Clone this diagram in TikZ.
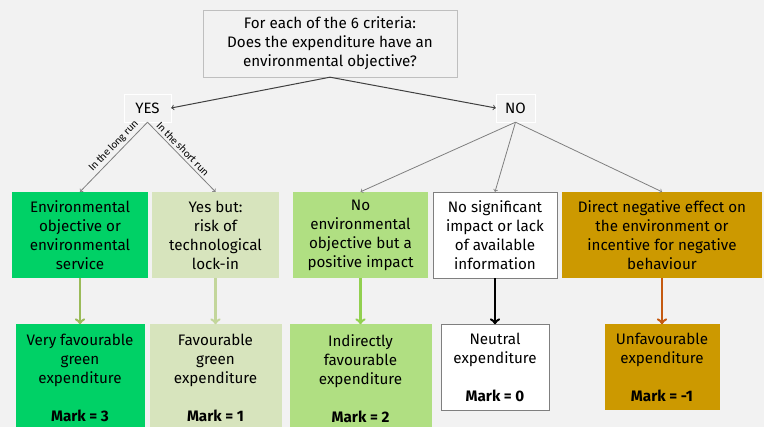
\documentclass[tikz,border=0pt]{standalone}
\usepackage{fontspec}
\setmainfont{Fira Sans}
\newfontfamily\labelfont{Carlito}
\usepackage{xcolor}
\usetikzlibrary{arrows, positioning}
\definecolor{bggray}{HTML}{F2F2F2}
\definecolor{framegray}{HTML}{BFBFBF}
\definecolor{darkgray}{HTML}{7F7F7F}
\definecolor{strongreen}{HTML}{00D166}
\definecolor{palegreen}{HTML}{D7E4BD}
\definecolor{midgreen}{HTML}{B0DF82}
\definecolor{goldbrown}{HTML}{CC9900}
\definecolor{olivearrow}{HTML}{9BBB59}
\definecolor{palearrow}{HTML}{C3D69B}
\definecolor{greenarrow}{HTML}{92D050}
\definecolor{rustarrow}{HTML}{C55A11}
\tikzset{
    questionnode/.style = {draw=framegray, rectangle, fill=bggray, inner sep=0em,
      minimum width=254pt, minimum height=67pt, align=center, font=\fontsize{15.2}{19}\selectfont},
    answernode/.style = {draw=white, rectangle, inner sep=0em, minimum height=28pt,
      font=\fontsize{15}{16}\selectfont},
    choicenode/.style = {rectangle, inner sep=0em, minimum height=86pt, align=center,
      font=\fontsize{15.2}{19}\selectfont},
    marknode/.style = {rectangle, inner sep=0em, align=center, font=\fontsize{15.2}{19}\selectfont},
    labelnode/.style = {font=\labelfont\fontsize{11}{12}\selectfont, inner sep=0.25em},
    mainlink/.style = {->, draw=black!75, line width=1pt},
    graylink/.style = {->, draw=darkgray, line width=0.8pt},
    marklink/.style = {-to, line width=2.5pt}
}
\begin{document}
\begin{tikzpicture}[x=1pt, y=-1pt]
    \clip (0,0) rectangle (764,427);
    \fill[bggray] (0,0) rectangle (764,427);

    \node [name=question, questionnode] at (330,43.5) {For each of the 6 criteria:\\Does the expenditure have an\\environmental objective?};
    \node [name=yes, answernode, minimum width=47pt] at (147.5,108) {YES};
    \node [name=no, answernode, minimum width=39pt] at (515.5,108) {NO};

    \draw (question.south) edge[mainlink] (yes.east);
    \draw (question.south) edge[mainlink] (no.west);

    % criteria
    \node [name=envobj, choicenode, fill=strongreen, minimum width=136pt] at (80,235) {Environmental\\objective or\\environmental\\service};
    \node [name=yesbut, choicenode, fill=palegreen, minimum width=127pt] at (215.5,235) {Yes but:\\risk of\\technological\\lock-in};
    \node [name=indirect, choicenode, fill=midgreen, minimum width=135pt] at (360.5,235) {No\\environmental\\objective but a\\positive impact};
    \node [name=nosig, choicenode, fill=white, draw=darkgray, minimum width=124pt] at (495,235) {No significant\\impact or lack\\of available\\information};
    \node [name=negative, choicenode, fill=goldbrown, minimum width=200pt] at (662,235) {Direct negative effect on\\the environment or\\incentive for negative\\behaviour};

    \draw (yes.south) edge[graylink] node[labelnode, sloped, above, pos=0.42] {In the long run} (envobj.north);
    \draw (yes.south) edge[graylink] node[labelnode, sloped, above, pos=0.45] {In the short run} (yesbut.north);
    \draw (no.south) edge[graylink] (indirect.north);
    \draw (no.south) edge[graylink] (nosig.north);
    \draw (no.south) edge[graylink] (negative.north);

    % marks
    \node [name=veryfav, marknode, fill=strongreen, minimum width=129pt, minimum height=108pt, below=46pt of envobj] {Very favourable\\green\\expenditure\\[19pt]\textbf{Mark = 3}};
    \node [name=fav, marknode, fill=palegreen, minimum width=132pt, minimum height=108pt, below=46pt of yesbut] {Favourable\\green\\expenditure\\[19pt]\textbf{Mark = 1}};
    \node [name=indfav, marknode, fill=midgreen, minimum width=142pt, minimum height=108pt, below=46pt of indirect] {Indirectly\\favourable\\expenditure\\[19pt]\textbf{Mark = 2}};
    \node [name=neutral, marknode, fill=white, draw=darkgray, minimum width=108pt, minimum height=86pt, below=46pt of nosig] {Neutral\\expenditure\\[19pt]\textbf{Mark = 0}};
    \node [name=unfav, marknode, fill=goldbrown, minimum width=115pt, minimum height=86pt, below=46pt of negative] {Unfavourable\\expenditure\\[19pt]\textbf{Mark = -1}};

    \draw (envobj) edge[marklink, olivearrow] (veryfav);
    \draw (yesbut) edge[marklink, palearrow] (fav);
    \draw (indirect) edge[marklink, greenarrow] (indfav);
    \draw (nosig) edge[marklink, black] (neutral);
    \draw (negative) edge[marklink, rustarrow] (unfav);
\end{tikzpicture}
\end{document}
